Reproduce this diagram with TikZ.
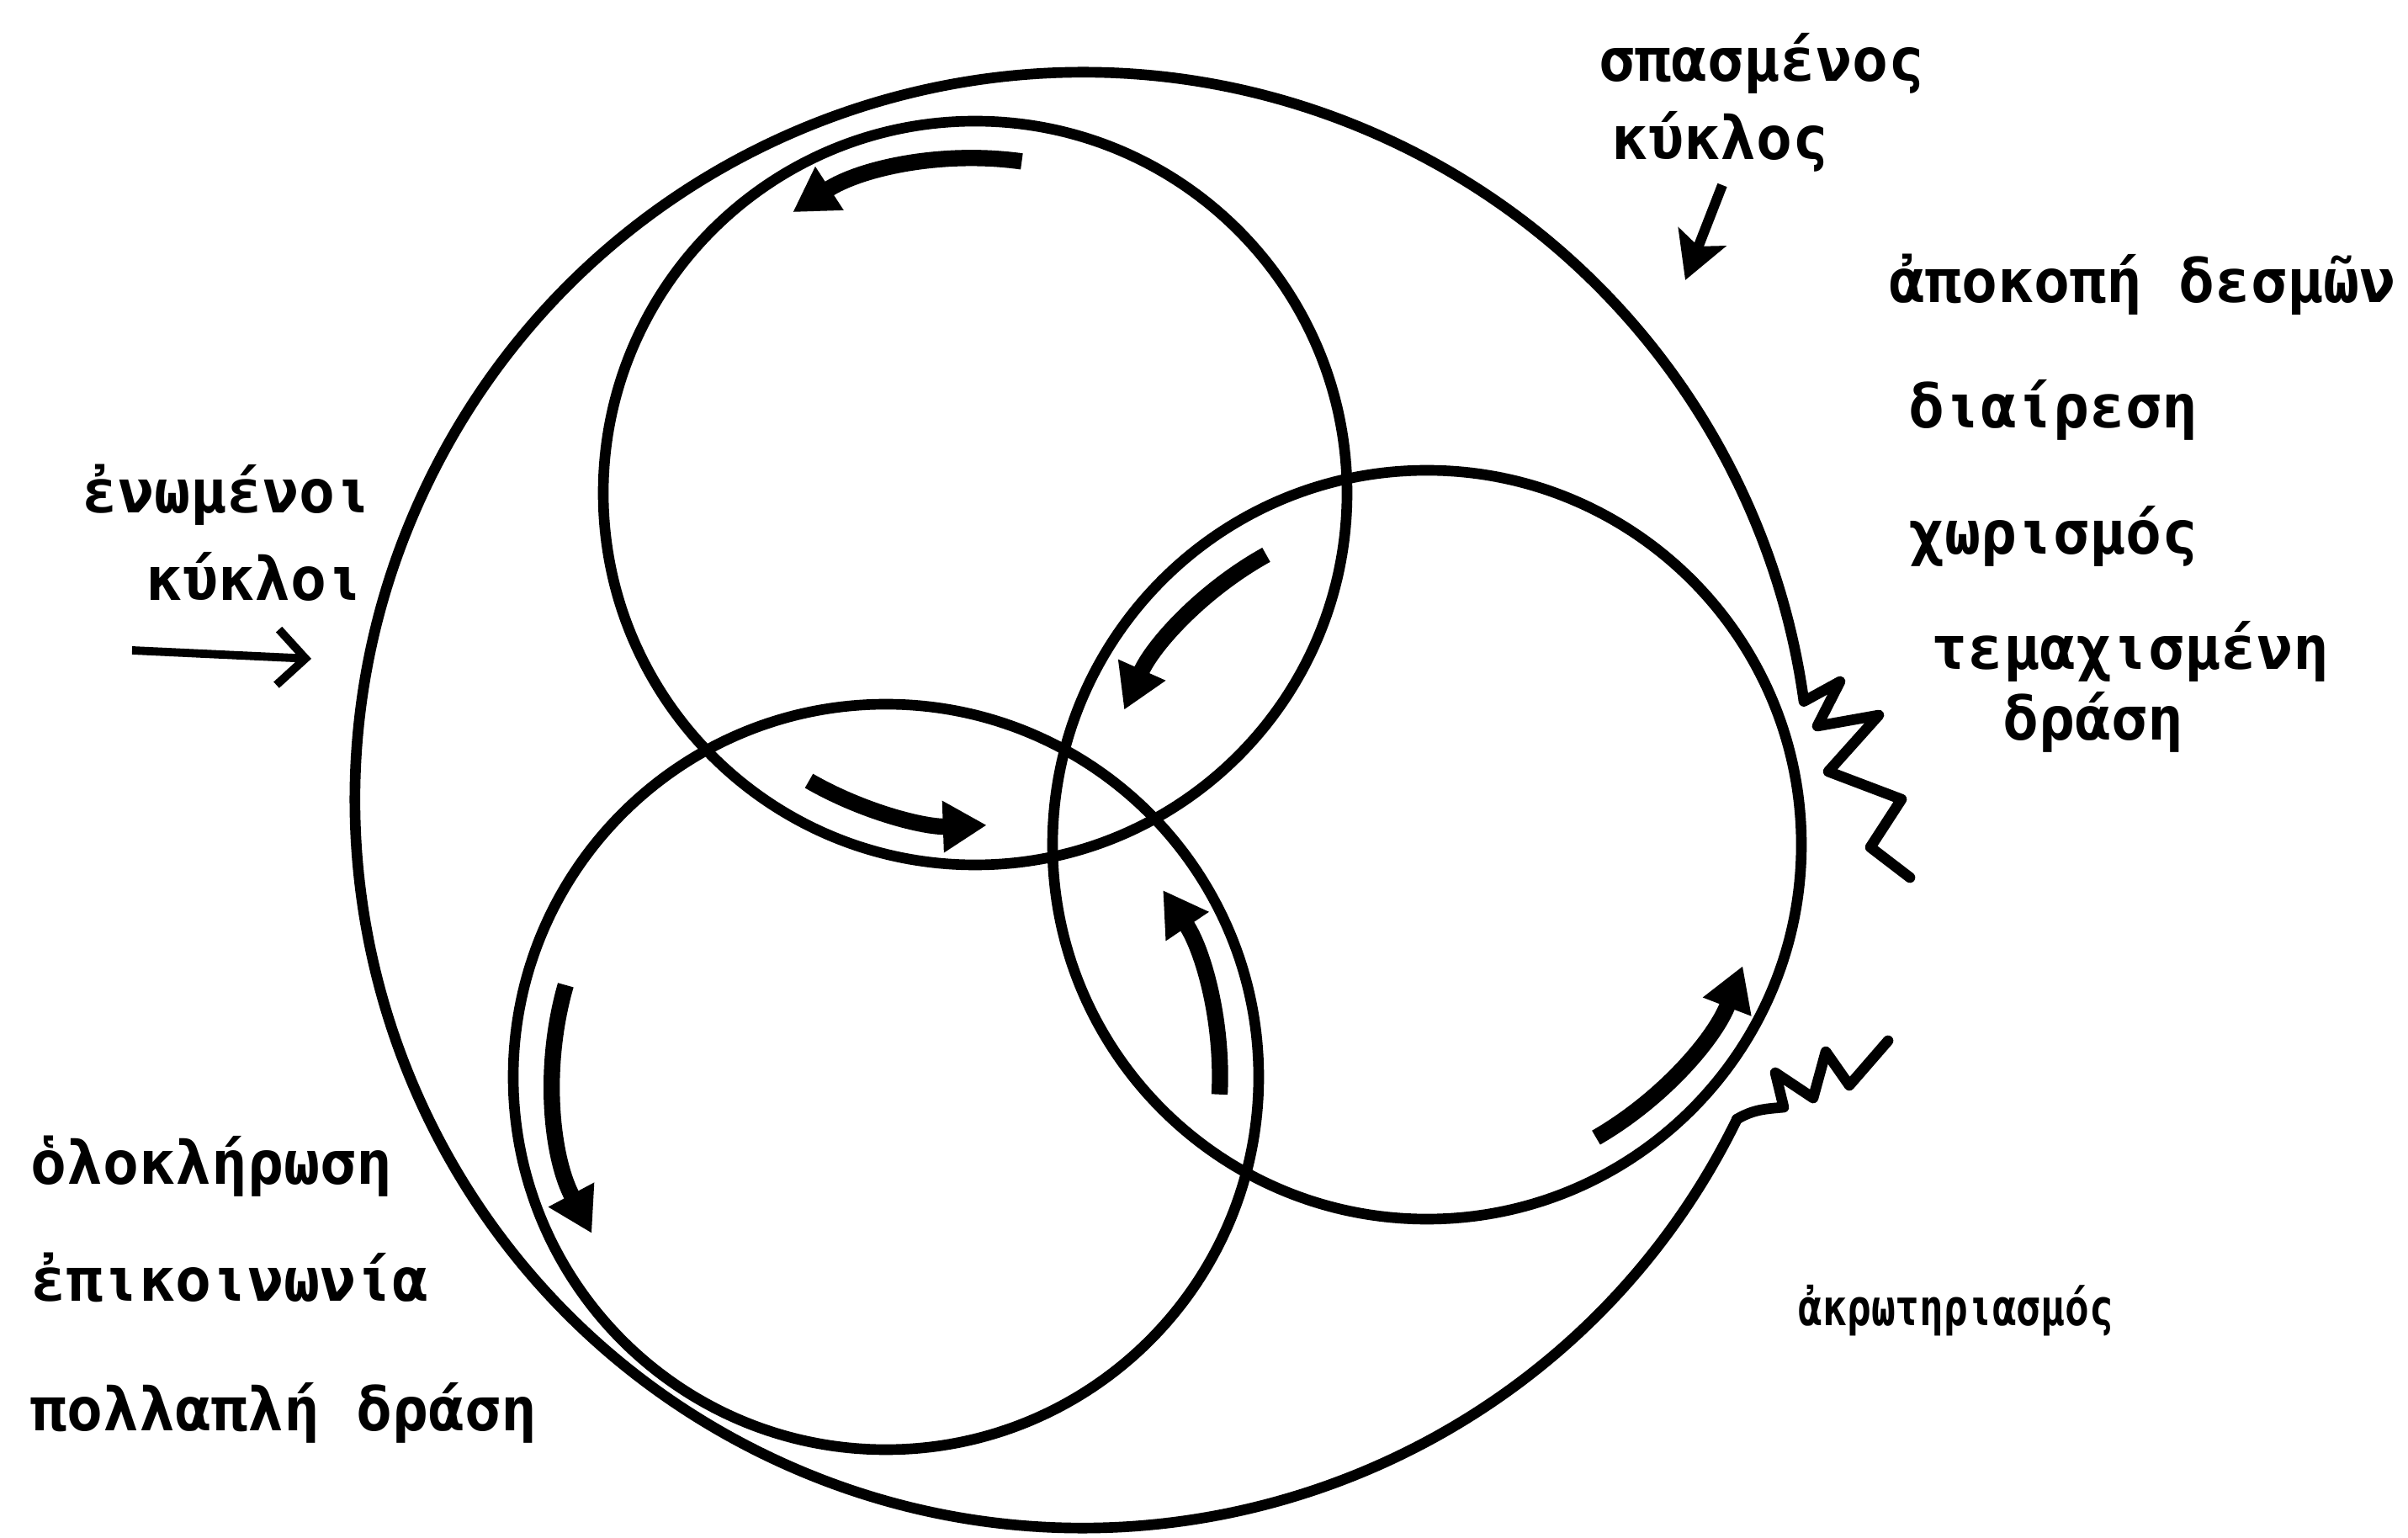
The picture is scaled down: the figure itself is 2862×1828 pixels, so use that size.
\documentclass[tikz,border=0pt]{standalone}
\usepackage{fontspec}
\usepackage{graphicx}
\newfontfamily\grfont{DejaVu Sans Mono}
\usetikzlibrary{arrows.meta}
\begin{document}
\begin{tikzpicture}[x=0.01cm, y=-0.01cm,
    ring/.style={line width=3.6pt, line join=round, line cap=round},
    flow/.style={line width=5.5pt, -{Triangle[length=0.52cm, width=0.58cm]}},
    lbl/.style={font=\grfont\bfseries\fontsize{20.3pt}{24pt}\selectfont, anchor=base west, inner sep=0pt}]
    \useasboundingbox (0,0) rectangle (2862,1828);
    \coordinate (couter) at (1287,951);
    \coordinate (ctop) at (1159,586);
    \coordinate (cright) at (1696,1004);
    \coordinate (cleft) at (1053,1280);
    \draw[ring] (couter) ++(26:865) arc[start angle=26, end angle=352.2, radius=865]
        -- (2187,810) -- (2160,863) -- (2233,850) -- (2173,917) -- (2260,950) -- (2223,1007) -- (2270,1043);
    \draw[ring] (couter) ++(26:865) .. controls (2085,1318) and (2100,1318) .. (2120,1316)
        -- (2110,1275) -- (2155,1305) -- (2170,1250) -- (2198,1290) -- (2244,1237);
    \foreach \c/\r in {ctop/442, cright/445, cleft/443}
        \draw[ring] (\c) circle[radius=\r];
    \foreach \c/\a/\b/\r in {ctop/278/237/398, ctop/120/88/395, cright/241/204/394, cright/60/21/402, cleft/3/-34/397, cleft/196/152/396}
        \draw[flow] (\c) ++(\a:\r) arc[start angle=\a, end angle=\b, radius=\r];
    \node[lbl] (spasm) at (1900,97) {σπασμένος};
    \node[lbl] (kyklos) at (1915,190) {κύκλος};
    \node[lbl] (apokopi) at (2245,360) {ἀποκοπή δεσμῶν};
    \node[lbl] (diairesi) at (2268,509) {διαίρεση};
    \node[lbl] (chorismos) at (2268,659) {χωρισμός};
    \node[lbl] (temach) at (2295,796) {τεμαχισμένη};
    \node[lbl] (drasi) at (2380,880) {δράση};
    \node[lbl] (enomenoi) at (97,610) {ἐνωμένοι};
    \node[lbl] (kykloi) at (173,714) {κύκλοι};
    \node[lbl] (olokl) at (36,1407) {ὁλοκλήρωση};
    \node[lbl] (epikoin) at (36,1547) {ἐπικοινωνία};
    \node[lbl] (pollapli) at (36,1700) {πολλαπλή δράση};
    \node[lbl, font=\grfont\bfseries\fontsize{17pt}{20pt}\selectfont] (akrot) at (2137,1575) {\scalebox{0.8}[1]{ἀκρωτηριασμός}};
    \coordinate (brk1) at (2047,220);
    \coordinate (brk2) at (2003,333);
    \coordinate (uni1) at (157,773);
    \coordinate (uni2) at (370,783);
    \draw[line width=3.4pt, -{Stealth[length=0.55cm, width=0.6cm, inset=0.12cm]}] (brk1) -- (brk2);
    \draw[line width=2.8pt, -{Straight Barb[length=0.33cm, width=0.66cm]}] (uni1) -- (uni2);
\end{tikzpicture}
\end{document}
